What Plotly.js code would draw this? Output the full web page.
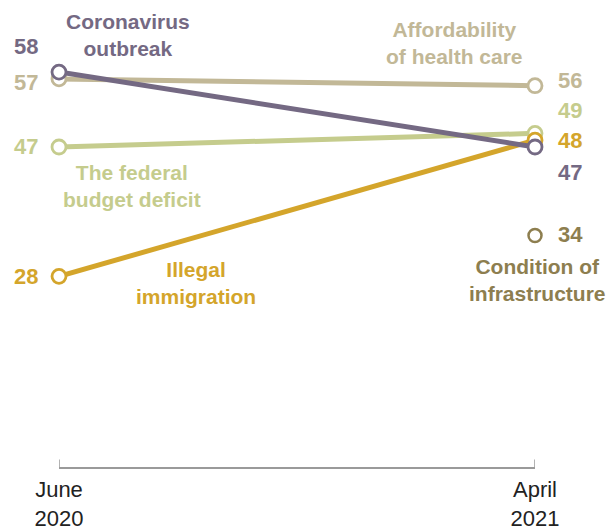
<!DOCTYPE html>
<html>
<head>
<meta charset="utf-8">
<script src="https://cdn.plot.ly/plotly-3.0.1.min.js"></script>
<style>html,body{margin:0;padding:0;background:#fff}#chart{width:613px;height:527px}</style>
</head>
<body>
<div id="chart"></div>
<script>
// Data
const periods = [0, 1];
const periodLabels = ["June<br>2020", "April<br>2021"];
const seriesNames = ["Affordability<br>of health care", "The federal<br>budget deficit", "Illegal<br>immigration", "Coronavirus<br>outbreak", "Condition of<br>infrastructure"];
const affordability = [57, 56];
const deficit = [47, 49];
const immigration = [28, 48];
const coronavirus = [58, 47];
const infrastructure = [null, 34];

const colors = {
  aff: "#c2b897",
  def: "#c5cc8d",
  imm: "#d4a52b",
  cor: "#746983",
  inf: "#8d7e4f"
};

function lineTrace(y, color) {
  return {
    x: periods, y: y, type: "scatter", mode: "lines+markers",
    line: {color: color, width: 5},
    marker: {size: 14, color: "#ffffff", line: {color: color, width: 2.8}},
    hoverinfo: "skip", cliponaxis: false
  };
}

const traces = [
  lineTrace(affordability, colors.aff),
  lineTrace(deficit, colors.def),
  lineTrace(immigration, colors.imm),
  lineTrace(coronavirus, colors.cor),
  {x: periods, y: infrastructure, type: "scatter", mode: "markers",
   marker: {size: 13, color: "#ffffff", line: {color: colors.inf, width: 2.5}},
   hoverinfo: "skip", cliponaxis: false}
];

const F = "Liberation Sans, Arial, sans-serif";
function ann(x, y, text, color, xanchor, size) {
  return {x: x, y: y, xref: "paper", yref: "y", text: text, showarrow: false,
    xanchor: xanchor || "center", yanchor: "middle",
    font: {family: F, size: size || 21, color: color, weight: "bold"}};
}

const L = -0.04, R = 1.044;
const annotations = [
  // left values
  ann(L, 61.7, String(coronavirus[0]), colors.cor, "right", 22),
  ann(L, 56.5, String(affordability[0]), colors.aff, "right", 22),
  ann(L, deficit[0], String(deficit[0]), colors.def, "right", 22),
  ann(L, immigration[0], String(immigration[0]), colors.imm, "right", 22),
  // right values
  ann(R, 56.8, String(affordability[1]), colors.aff, "left", 22),
  ann(R, 52.4, String(deficit[1]), colors.def, "left", 22),
  ann(R, 47.9, String(immigration[1]), colors.imm, "left", 22),
  ann(R, 43.3, String(coronavirus[1]), colors.cor, "left", 22),
  ann(R, 34.1, String(infrastructure[1]), colors.inf, "left", 22),
  // series labels
  ann(0.145, 63.4, seriesNames[3], colors.cor),
  ann(0.83, 62.3, seriesNames[0], colors.aff),
  ann(0.153, 41.3, seriesNames[1], colors.def),
  ann(0.288, 27.0, seriesNames[2], colors.imm),
  ann(1.006, 27.5, seriesNames[4], colors.inf)
];

// tick marks at each period, pointing up from the axis line
const shapes = periods.map(p => ({
  type: "line", xref: "x", yref: "paper", x0: p, x1: p, y0: 0, y1: 0.016,
  line: {color: "#9a9a9a", width: 1.5}
}));

const layout = {
  width: 613, height: 527,
  margin: {l: 59, r: 78, t: 4, b: 60},
  paper_bgcolor: "#ffffff", plot_bgcolor: "#ffffff",
  showlegend: false,
  xaxis: {
    range: [0, 1], tickvals: periods, ticktext: periodLabels,
    showgrid: false, zeroline: false, showline: true, linecolor: "#9a9a9a", linewidth: 1.5,
    ticks: "", ticklabelstandoff: 2,
    tickfont: {family: F, size: 22, color: "#222222"}, fixedrange: true
  },
  yaxis: {range: [0, 68], visible: false, fixedrange: true},
  annotations: annotations,
  shapes: shapes
};

Plotly.newPlot("chart", traces, layout, {staticPlot: true, displayModeBar: false});
</script>
</body>
</html>
